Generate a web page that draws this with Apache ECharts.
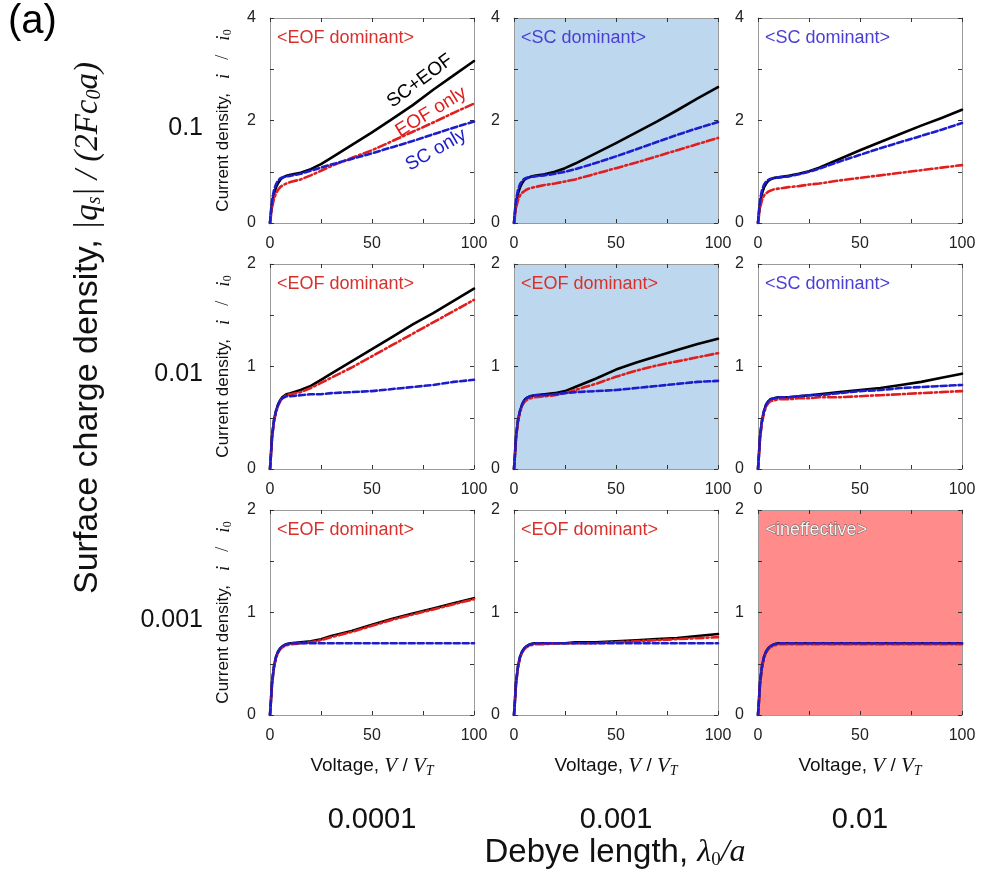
<!DOCTYPE html>
<html><head><meta charset="utf-8">
<script src="https://cdn.jsdelivr.net/npm/echarts@6/dist/echarts.min.js"></script>
<style>html,body{margin:0;padding:0;background:#fff}#c{width:983px;height:876px}</style>
</head><body><div id="c"></div>
<script>
// ---- data ----
const voltage = [0, 0.5, 1, 2, 3, 4, 5, 6, 8, 10, 15, 20, 25, 30, 40, 50, 60, 70, 80, 90, 100];
const debyeLabels = ['0.0001', '0.001', '0.01'];
const chargeLabels = ['0.1', '0.01', '0.001'];
const xTicks = [0, 50, 100];
const yTicksRow1 = [0, 2, 4];
const yTicksRow23 = [0, 1, 2];

// row 1 (|qs| = 0.1)
const r1c1_both = [0,0.2,0.38,0.58,0.7,0.78,0.84,0.88,0.92,0.94,0.98,1.05,1.15,1.27,1.52,1.77,2.03,2.3,2.6,2.88,3.16];
const r1c1_eof  = [0,0.15,0.3,0.48,0.58,0.65,0.7,0.73,0.77,0.8,0.85,0.93,1.02,1.11,1.27,1.42,1.6,1.78,1.96,2.15,2.33];
const r1c1_sc   = [0,0.25,0.45,0.65,0.76,0.83,0.87,0.89,0.91,0.92,0.96,1.02,1.08,1.14,1.25,1.36,1.48,1.6,1.73,1.86,1.98];
const r1c2_both = [0,0.2,0.38,0.58,0.7,0.78,0.84,0.87,0.9,0.92,0.95,1.0,1.07,1.16,1.36,1.56,1.77,1.98,2.2,2.43,2.65];
const r1c2_eof  = [0,0.15,0.3,0.45,0.54,0.59,0.62,0.65,0.68,0.7,0.74,0.77,0.81,0.85,0.96,1.07,1.18,1.3,1.42,1.54,1.66];
const r1c2_sc   = [0,0.25,0.45,0.65,0.76,0.82,0.86,0.88,0.9,0.91,0.93,0.96,1.0,1.05,1.17,1.3,1.44,1.58,1.72,1.85,1.97];
const r1c3_both = [0,0.2,0.38,0.58,0.7,0.77,0.82,0.85,0.88,0.89,0.92,0.96,1.01,1.08,1.25,1.42,1.58,1.74,1.9,2.05,2.21];
const r1c3_eof  = [0,0.15,0.3,0.45,0.54,0.58,0.61,0.63,0.66,0.67,0.7,0.72,0.75,0.77,0.83,0.88,0.93,0.98,1.03,1.08,1.13];
const r1c3_sc   = [0,0.25,0.45,0.65,0.75,0.81,0.84,0.86,0.88,0.89,0.91,0.95,1.0,1.06,1.2,1.33,1.46,1.58,1.7,1.82,1.95];
// row 2 (|qs| = 0.01)
const r2c1_both = [0,0.15,0.32,0.48,0.57,0.63,0.67,0.7,0.73,0.74,0.77,0.81,0.87,0.93,1.05,1.17,1.29,1.41,1.52,1.64,1.76];
const r2c1_eof  = [0,0.15,0.3,0.47,0.56,0.62,0.66,0.69,0.72,0.73,0.75,0.79,0.84,0.89,0.99,1.1,1.21,1.32,1.43,1.54,1.65];
const r2c1_sc   = [0,0.15,0.32,0.48,0.57,0.63,0.67,0.69,0.71,0.71,0.72,0.73,0.73,0.74,0.75,0.76,0.78,0.8,0.82,0.85,0.87];
const r2c2_both = [0,0.15,0.32,0.48,0.57,0.63,0.67,0.69,0.71,0.72,0.73,0.74,0.76,0.8,0.88,0.97,1.04,1.1,1.16,1.22,1.27];
const r2c2_eof  = [0,0.15,0.3,0.47,0.56,0.62,0.65,0.67,0.69,0.7,0.71,0.72,0.74,0.77,0.83,0.9,0.96,1.01,1.05,1.09,1.13];
const r2c2_sc   = [0,0.15,0.32,0.48,0.57,0.63,0.67,0.69,0.71,0.72,0.72,0.73,0.74,0.75,0.76,0.77,0.79,0.81,0.83,0.85,0.86];
const r2c3_both = [0,0.15,0.32,0.48,0.57,0.63,0.66,0.68,0.69,0.7,0.7,0.71,0.72,0.73,0.75,0.77,0.79,0.82,0.85,0.89,0.93];
const r2c3_eof  = [0,0.15,0.3,0.46,0.55,0.61,0.64,0.66,0.67,0.68,0.68,0.69,0.69,0.7,0.7,0.71,0.72,0.73,0.74,0.75,0.76];
const r2c3_sc   = [0,0.15,0.32,0.48,0.57,0.63,0.66,0.68,0.69,0.7,0.7,0.71,0.72,0.72,0.74,0.76,0.77,0.79,0.8,0.81,0.82];
// row 3 (|qs| = 0.001)
const r3c1_both = [0,0.15,0.32,0.48,0.57,0.62,0.65,0.67,0.69,0.7,0.71,0.72,0.74,0.77,0.82,0.88,0.94,0.99,1.04,1.09,1.14];
const r3c1_eof  = [0,0.15,0.3,0.47,0.56,0.61,0.64,0.66,0.68,0.69,0.7,0.71,0.73,0.76,0.81,0.87,0.93,0.98,1.03,1.08,1.13];
const r3c1_sc   = [0,0.15,0.32,0.48,0.57,0.62,0.65,0.67,0.69,0.7,0.7,0.7,0.7,0.7,0.7,0.7,0.7,0.7,0.7,0.7,0.7];
const r3c2_both = [0,0.15,0.32,0.48,0.57,0.62,0.65,0.67,0.69,0.7,0.7,0.7,0.7,0.71,0.71,0.72,0.73,0.74,0.75,0.77,0.79];
const r3c2_eof  = [0,0.15,0.3,0.47,0.56,0.61,0.64,0.66,0.68,0.69,0.69,0.7,0.7,0.7,0.7,0.71,0.72,0.73,0.74,0.75,0.76];
const r3c2_sc   = [0,0.15,0.32,0.48,0.57,0.62,0.65,0.67,0.69,0.7,0.7,0.7,0.7,0.7,0.7,0.7,0.7,0.7,0.7,0.7,0.7];
const r3c3_both = [0,0.15,0.32,0.48,0.57,0.62,0.65,0.67,0.69,0.7,0.7,0.7,0.7,0.7,0.7,0.7,0.7,0.7,0.7,0.7,0.7];
const r3c3_eof  = [0,0.15,0.3,0.47,0.56,0.61,0.64,0.66,0.68,0.69,0.69,0.69,0.69,0.69,0.69,0.69,0.69,0.69,0.69,0.69,0.69];
const r3c3_sc   = [0,0.15,0.32,0.48,0.57,0.62,0.65,0.67,0.69,0.7,0.7,0.7,0.7,0.7,0.7,0.7,0.7,0.7,0.7,0.7,0.7];

const panels = [
  [[r1c1_both, r1c1_eof, r1c1_sc], [r1c2_both, r1c2_eof, r1c2_sc], [r1c3_both, r1c3_eof, r1c3_sc]],
  [[r2c1_both, r2c1_eof, r2c1_sc], [r2c2_both, r2c2_eof, r2c2_sc], [r2c3_both, r2c3_eof, r2c3_sc]],
  [[r3c1_both, r3c1_eof, r3c1_sc], [r3c2_both, r3c2_eof, r3c2_sc], [r3c3_both, r3c3_eof, r3c3_sc]]
];
const regimes = [
  ['EOF dominant', 'SC dominant', 'SC dominant'],
  ['EOF dominant', 'EOF dominant', 'SC dominant'],
  ['EOF dominant', 'EOF dominant', 'ineffective']
];

// ---- styling / layout ----
const colLeft = [270, 514, 758];
const rowTop = [18, 264, 510];
const W = 204, H = 205;
const yMax = [4, 2, 2];
const yStep = [1, 0.5, 0.5];
const yLabelSets = [yTicksRow1, yTicksRow23, yTicksRow23];
const regimeColor = {'EOF dominant': '#d9302c', 'SC dominant': '#4a3fd4', 'ineffective': '#f4f4f4'};
const panelBg = [
  ['#ffffff', '#bdd7ee', '#ffffff'],
  ['#ffffff', '#bdd7ee', '#ffffff'],
  ['#ffffff', '#ffffff', '#ff8b8b']
];
const SANS = 'Liberation Sans, Arial, sans-serif';
const SERIF = 'Liberation Serif, Times New Roman, serif';
const axisColor = '#9a9a9a';
const lineSpecs = [
  {color: '#000000', type: 'solid', width: 2.6},
  {color: '#e01e1e', type: [8, 3, 2, 3], width: 2.6},
  {color: '#1c1ccc', type: [6, 3], width: 2.6}
];

const grids = [], xAxes = [], yAxes = [], series = [], graphics = [];
let gi = 0;
for (let r = 0; r < 3; r++) {
  for (let c = 0; c < 3; c++) {
    grids.push({left: colLeft[c], top: rowTop[r], width: W, height: H, show: true,
      backgroundColor: panelBg[r][c], borderWidth: 0});
    const xBase = {gridIndex: gi, type: 'value', min: 0, max: 100, interval: 25,
      axisLine: {onZero: false, lineStyle: {color: axisColor, width: 1}},
      axisTick: {inside: true, length: 4, lineStyle: {color: '#333', width: 1}},
      splitLine: {show: false}};
    xAxes.push(Object.assign({}, xBase, {position: 'bottom',
      axisLabel: {margin: 13, fontSize: 16, fontFamily: SANS, color: '#222',
        formatter: v => xTicks.includes(v) ? String(v) : ''},
      name: r === 2 ? '{t|Voltage, }{m|V}{t| / }{m|V}{s|T}' : '',
      nameLocation: 'middle', nameGap: 39,
      nameTextStyle: {rich: {
        t: {fontSize: 19, fontFamily: SANS, color: '#111'},
        m: {fontSize: 21, fontFamily: SERIF, fontStyle: 'italic', color: '#111'},
        s: {fontSize: 14, fontFamily: SERIF, fontStyle: 'italic', color: '#111', verticalAlign: 'bottom', padding: [10, 0, 0, 0]}
      }}
    }));
    xAxes.push(Object.assign({}, xBase, {position: 'top', axisLabel: {show: false}}));
    const yBase = {gridIndex: gi, type: 'value', min: 0, max: yMax[r], interval: yStep[r],
      axisLine: {onZero: false, lineStyle: {color: axisColor, width: 1}},
      axisTick: {inside: true, length: 4, lineStyle: {color: '#333', width: 1}},
      splitLine: {show: false}};
    yAxes.push(Object.assign({}, yBase, {position: 'left',
      axisLabel: {margin: 14, fontSize: 16, fontFamily: SANS, color: '#222',
        formatter: (set => v => set.includes(v) ? String(v) : '')(yLabelSets[r])},
      name: c === 0 ? '{t|Current density,}{m|i}{sl|/}{m|i}{s|0}' : '',
      nameLocation: 'middle', nameGap: 36, nameRotate: 90,
      nameTextStyle: {rich: {
        t: {fontSize: 17, fontFamily: SANS, color: '#111'},
        m: {fontSize: 19, fontFamily: SERIF, fontStyle: 'italic', color: '#111', padding: [0, 0, 0, 14]},
        sl: {fontSize: 18, fontFamily: SERIF, color: '#111', padding: [0, 0, 0, 14]},
        s: {fontSize: 12, fontFamily: SERIF, color: '#111', verticalAlign: 'bottom', padding: [9, 0, 0, 0]}
      }}
    }));
    yAxes.push(Object.assign({}, yBase, {position: 'right', axisLabel: {show: false}}));

    panels[r][c].forEach((arr, k) => {
      series.push({type: 'line', xAxisIndex: 2 * gi, yAxisIndex: 2 * gi,
        data: voltage.map((v, i) => [v, arr[i]]),
        showSymbol: false, smooth: false, silent: true,
        lineStyle: {color: lineSpecs[k].color, type: lineSpecs[k].type, width: lineSpecs[k].width,
          cap: 'round', join: 'round'},
        z: 2 + k});
    });

    const reg = regimes[r][c];
    graphics.push({type: 'text', left: colLeft[c] + 7, top: rowTop[r] + 11, z: 100,
      style: {text: '<' + reg + '>', fill: regimeColor[reg], fontSize: 18, fontFamily: SANS,
        stroke: reg === 'ineffective' ? '#555' : null, lineWidth: reg === 'ineffective' ? 0.8 : 0}});
    gi++;
  }
}

// curve labels in first panel
const curveNames = [['SC+EOF', '#000000', 420, 81, 0.64], ['EOF only', '#e01e1e', 431, 112, 0.55], ['SC only', '#1c1ccc', 436, 150, 0.52]];
curveNames.forEach(([t, col, x, y, rot]) => {
  graphics.push({type: 'text', x: x, y: y, rotation: rot, z: 100,
    style: {text: t, fill: col, fontSize: 19, fontFamily: SANS, align: 'center', verticalAlign: 'middle'}});
});

// row / column headers
chargeLabels.forEach((t, r) => {
  graphics.push({type: 'text', x: 203, y: rowTop[r] + 110, z: 100,
    style: {text: t, fill: '#111', fontSize: 25, fontFamily: SANS, align: 'right', verticalAlign: 'middle'}});
});
debyeLabels.forEach((t, c) => {
  graphics.push({type: 'text', x: colLeft[c] + W / 2, y: 820, z: 100,
    style: {text: t, fill: '#111', fontSize: 29, fontFamily: SANS, align: 'center', verticalAlign: 'middle'}});
});
graphics.push({type: 'text', x: 615, y: 853, z: 100,
  style: {text: '{t|Debye length, }{m|λ}{s|0}{m|/a}', align: 'center', verticalAlign: 'middle',
    rich: {
      t: {fontSize: 33, fontFamily: SANS, fill: '#111'},
      m: {fontSize: 32, fontFamily: SERIF, fontStyle: 'italic', fill: '#111'},
      s: {fontSize: 19, fontFamily: SERIF, fill: '#111', verticalAlign: 'bottom', padding: [14, 0, 0, 0]}
    }}});
graphics.push({type: 'text', x: 88, y: 328, rotation: Math.PI / 2, z: 100,
  style: {text: '{t|Surface charge density, }{m||q}{s|s}{m|| / (2Fc}{s|0}{m|a)}', align: 'center', verticalAlign: 'middle',
    rich: {
      t: {fontSize: 34, fontFamily: SANS, fill: '#111'},
      m: {fontSize: 33, fontFamily: SERIF, fontStyle: 'italic', fill: '#111'},
      s: {fontSize: 20, fontFamily: SERIF, fontStyle: 'italic', fill: '#111', verticalAlign: 'bottom', padding: [14, 0, 0, 0]}
    }}});
graphics.push({type: 'text', left: 8, top: 2, z: 100,
  style: {text: '(a)', fill: '#000', fontSize: 40, fontFamily: SANS}});

const chart = echarts.init(document.getElementById('c'), null, {renderer: 'canvas'});
chart.setOption({
  animation: false,
  backgroundColor: '#ffffff',
  grid: grids, xAxis: xAxes, yAxis: yAxes, series: series, graphic: graphics
});
</script>
</body></html>
